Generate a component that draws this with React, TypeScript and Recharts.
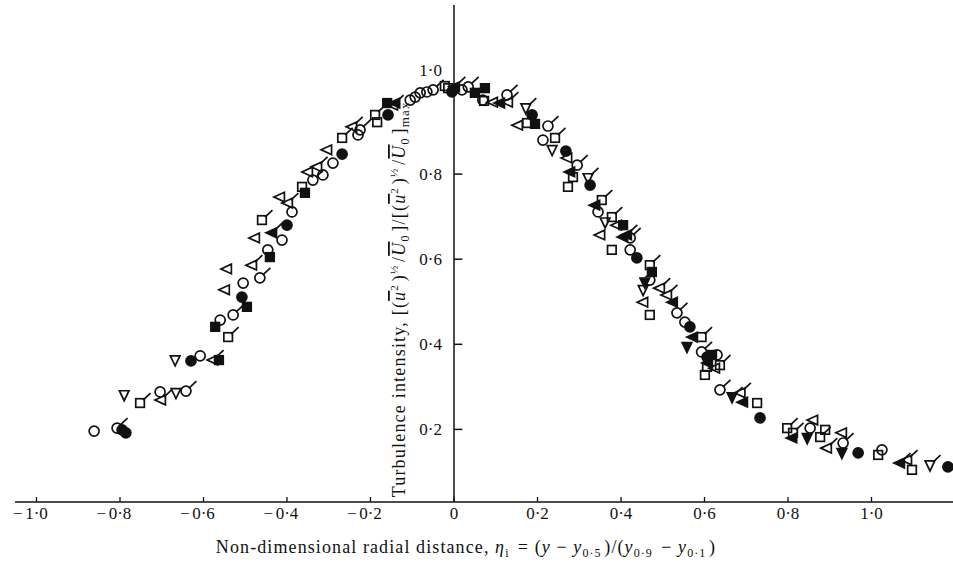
import React from 'react';
import { ScatterChart, Scatter, XAxis, YAxis, ReferenceLine } from 'recharts';

type Pt = [number, number];

// axis ticks
const xTicks = [-1.0, -0.8, -0.6, -0.4, -0.2, 0, 0.2, 0.4, 0.6, 0.8, 1.0];
const yTicks = [0.2, 0.4, 0.6, 0.8];
const yTopLabel = 1.0;

// measured points, grouped by symbol
const openCircle: Pt[] = [
  [-0.862, 0.196], [-0.704, 0.288], [-0.608, 0.373], [-0.56, 0.457], [-0.505, 0.544],
  [-0.446, 0.622], [-0.412, 0.645], [-0.388, 0.711], [-0.314, 0.798], [-0.29, 0.826],
  [-0.23, 0.892], [-0.105, 0.974], [-0.093, 0.981], [-0.081, 0.991], [-0.065, 0.993],
  [0.019, 0.998], [0.069, 0.974], [0.213, 0.88], [0.345, 0.711], [0.422, 0.622],
  [0.469, 0.551], [0.553, 0.452], [0.63, 0.375], [0.853, 0.203], [1.025, 0.152],
];
const flaggedCircle: Pt[] = [
  [-0.807, 0.203], [-0.642, 0.29], [-0.529, 0.469], [-0.465, 0.556], [-0.338, 0.786],
  [-0.225, 0.904], [-0.05, 0.998], [0.034, 1.005], [0.127, 0.986], [0.225, 0.913],
  [0.295, 0.821], [0.422, 0.65], [0.534, 0.474], [0.593, 0.382], [0.637, 0.293],
  [0.932, 0.168],
];
const filledCircle: Pt[] = [
  [-0.795, 0.199], [-0.786, 0.192], [-0.63, 0.361], [-0.508, 0.511], [-0.4, 0.68],
  [-0.268, 0.847], [-0.158, 0.939], [-0.005, 0.993], [0.187, 0.939], [0.268, 0.854],
  [0.326, 0.774], [0.438, 0.603], [0.565, 0.441], [0.606, 0.37], [0.733, 0.227],
  [0.968, 0.145], [1.183, 0.112],
];
const openSquare: Pt[] = [
  [-0.364, 0.77], [-0.184, 0.922], [-0.022, 1.007], [-0.014, 1.002], [0.072, 0.972],
  [0.175, 0.92], [0.285, 0.793], [0.273, 0.77], [0.378, 0.622], [0.469, 0.469],
  [0.606, 0.347], [0.601, 0.328], [0.726, 0.262], [0.889, 0.199], [1.016, 0.14],
  [1.097, 0.105],
];
const flaggedSquare: Pt[] = [
  [-0.752, 0.262], [-0.541, 0.417], [-0.46, 0.692], [-0.268, 0.885], [-0.189, 0.939],
  [0.242, 0.885], [0.354, 0.739], [0.378, 0.699], [0.469, 0.586], [0.593, 0.417],
  [0.637, 0.351], [0.798, 0.203], [0.812, 0.192], [0.877, 0.182],
];
const filledSquare: Pt[] = [
  [-0.572, 0.441], [-0.563, 0.363], [-0.496, 0.488], [-0.441, 0.605], [-0.357, 0.756],
  [-0.16, 0.967], [0.05, 0.991], [0.074, 1.002], [0.194, 0.918], [0.405, 0.68],
  [0.474, 0.57], [0.618, 0.375],
];
const openTri: Pt[] = [
  [-0.549, 0.528], [-0.544, 0.577], [-0.477, 0.65], [-0.417, 0.746], [-0.35, 0.805],
  [-0.304, 0.857], [0.093, 0.969], [0.153, 0.915], [0.271, 0.838], [0.35, 0.657],
  [0.39, 0.68], [0.453, 0.499], [0.625, 0.344], [0.86, 0.222], [0.929, 0.192],
];
const flaggedTri: Pt[] = [
  [-0.702, 0.269], [-0.577, 0.363], [-0.484, 0.586], [-0.398, 0.732], [-0.328, 0.817],
  [-0.244, 0.911], [-0.146, 0.962], [0.129, 0.969], [0.493, 0.532], [0.51, 0.516],
  [0.686, 0.286], [0.893, 0.156], [1.085, 0.128],
];
const filledTri: Pt[] = [
  [-0.141, 0.967], [0.11, 0.967], [0.278, 0.805], [0.338, 0.727], [0.405, 0.652],
  [0.524, 0.499], [0.572, 0.417], [0.608, 0.356], [0.692, 0.264], [0.81, 0.18],
];
const flaggedFilledTri: Pt[] = [
  [-0.436, 0.662], [0.002, 1.005], [0.414, 0.657], [1.068, 0.121],
];
const openDown: Pt[] = [
  [-0.79, 0.281], [-0.666, 0.286], [-0.668, 0.363], [0.235, 0.857], [0.362, 0.687],
  [0.453, 0.528],
];
const flaggedDown: Pt[] = [[0.172, 0.955], [0.321, 0.791], [1.14, 0.116]];
const filledDown: Pt[] = [[0.457, 0.546], [0.558, 0.394], [0.846, 0.18], [0.929, 0.145]];
const flaggedFilledDown: Pt[] = [[0.666, 0.276]];

const X_DOMAIN: [number, number] = [-1.0515, 1.1952];
const Y_DOMAIN: [number, number] = [0.0294, 1.1974];

const SERIF = '"Liberation Serif", "Times New Roman", serif';
const INK = '#111';

const fmt = (v: number) => (v === 0 ? '0' : Math.abs(v).toFixed(1).replace('.', '·'));

type Kind = 'circle' | 'square' | 'left' | 'down';

const marker = (kind: Kind, filled: boolean, flag: boolean) => (props: any) => {
  const { cx, cy } = props;
  if (cx == null || cy == null) return <g />;
  let body: React.ReactNode = null;
  if (kind === 'circle') body = <circle cx={cx} cy={cy} r={5} />;
  if (kind === 'square') body = <rect x={cx - 4.3} y={cy - 4.3} width={8.6} height={8.6} />;
  if (kind === 'left')
    body = <polygon points={`${cx - 6},${cy} ${cx + 4.5},${cy - 4.8} ${cx + 4.5},${cy + 4.8}`} />;
  if (kind === 'down')
    body = <polygon points={`${cx - 4.8},${cy - 4.2} ${cx + 4.8},${cy - 4.2} ${cx},${cy + 5.8}`} />;
  return (
    <g stroke={INK} strokeWidth={1.7} fill={filled ? INK : 'none'}>
      {body}
      {flag && <line x1={cx + 3} y1={cy - 3} x2={cx + 10.5} y2={cy - 10} />}
    </g>
  );
};

const series: { name: string; data: Pt[]; kind: Kind; filled: boolean; flag: boolean }[] = [
  { name: 'oc', data: openCircle, kind: 'circle', filled: false, flag: false },
  { name: 'foc', data: flaggedCircle, kind: 'circle', filled: false, flag: true },
  { name: 'fc', data: filledCircle, kind: 'circle', filled: true, flag: false },
  { name: 'os', data: openSquare, kind: 'square', filled: false, flag: false },
  { name: 'fos', data: flaggedSquare, kind: 'square', filled: false, flag: true },
  { name: 'fs', data: filledSquare, kind: 'square', filled: true, flag: false },
  { name: 'ot', data: openTri, kind: 'left', filled: false, flag: false },
  { name: 'fot', data: flaggedTri, kind: 'left', filled: false, flag: true },
  { name: 'ft', data: filledTri, kind: 'left', filled: true, flag: false },
  { name: 'fft', data: flaggedFilledTri, kind: 'left', filled: true, flag: true },
  { name: 'od', data: openDown, kind: 'down', filled: false, flag: false },
  { name: 'fod', data: flaggedDown, kind: 'down', filled: false, flag: true },
  { name: 'fd', data: filledDown, kind: 'down', filled: true, flag: false },
  { name: 'ffd', data: flaggedFilledDown, kind: 'down', filled: true, flag: true },
];

const XTick = (props: any) => {
  const { x, y, payload } = props;
  const v = payload.value as number;
  return (
    <g>
      <line x1={x} x2={x} y1={y} y2={y - 5} stroke={INK} strokeWidth={1.3} />
      <text x={x} y={y + 17} textAnchor="middle" fontSize={17} fontFamily={SERIF} fill={INK}>
        {fmt(v)}
      </text>
      {v < 0 && (
        <text x={x - 14} y={y + 17} textAnchor="end" fontSize={17} fontFamily={SERIF} fill={INK}>
          −
        </text>
      )}
    </g>
  );
};

const sub = (s: string, size = 12) => (
  <>
    <tspan dy={4} fontSize={size}>{s}</tspan>
    <tspan dy={-4}>{'\u200a'}</tspan>
  </>
);
const sup = (s: string, size = 11) => (
  <>
    <tspan dy={-7} fontSize={size}>{s}</tspan>
    <tspan dy={7}>{'\u200a'}</tspan>
  </>
);

const XTitle = () => (
  <text
    x={466}
    y={553}
    textAnchor="middle"
    fontSize={18}
    letterSpacing={1.1}
    fontFamily={SERIF}
    fill={INK}
  >
    Non-dimensional radial distance,{'  '}
    <tspan fontStyle="italic">η</tspan>
    {sub('i')}
    {' = ('}
    <tspan fontStyle="italic">y</tspan>
    {' − '}
    <tspan fontStyle="italic">y</tspan>
    {sub('0·5')}
    {')/('}
    <tspan fontStyle="italic">y</tspan>
    {sub('0·9')}
    {' − '}
    <tspan fontStyle="italic">y</tspan>
    {sub('0·1')}
    {')'}
  </text>
);

const YTitle = () => (
  <text
    transform="translate(405, 298) rotate(-90)"
    textAnchor="middle"
    fontSize={18}
    letterSpacing={1.2}
    fontFamily={SERIF}
    fill={INK}
  >
    {'Turbulence intensity, [('}
    <tspan fontStyle="italic" style={{ textDecoration: 'overline' }}>u</tspan>
    {sup('2')}
    {')'}
    {sup('½')}
    {'/'}
    <tspan fontStyle="italic" style={{ textDecoration: 'overline' }}>U</tspan>
    {sub('0')}
    {']/[('}
    <tspan fontStyle="italic" style={{ textDecoration: 'overline' }}>u</tspan>
    {sup('2')}
    {')'}
    {sup('½')}
    {'/'}
    <tspan fontStyle="italic" style={{ textDecoration: 'overline' }}>U</tspan>
    {sub('0')}
    {']'}
    {sub('max', 13)}
  </text>
);

const tickLabel = (v: number) => ({
  value: fmt(v),
  position: 'left' as const,
  offset: 12,
  fill: INK,
  fontSize: 17,
  fontFamily: SERIF,
});

export default function App() {
  return (
    <div style={{ position: 'absolute', left: 0, top: 0, width: 953, height: 564, background: '#fff' }}>
      <ScatterChart width={953} height={564} margin={{ top: 5, right: 0, bottom: 0, left: 15 }}>
        <XAxis
          type="number"
          dataKey="x"
          domain={X_DOMAIN}
          allowDataOverflow
          ticks={xTicks}
          interval={0}
          height={62}
          tickSize={0}
          tickMargin={0}
          tickLine={false}
          tick={<XTick />}
          axisLine={{ stroke: INK, strokeWidth: 1.5 }}
          label={<XTitle />}
        />
        <YAxis type="number" dataKey="y" domain={Y_DOMAIN} allowDataOverflow hide />
        <ReferenceLine x={0} stroke={INK} strokeWidth={1.5} label={<YTitle />} />
        {yTicks.map((v) => (
          <ReferenceLine
            key={v}
            segment={[{ x: 0, y: v }, { x: 0.02, y: v }]}
            stroke={INK}
            strokeWidth={1.5}
            label={tickLabel(v)}
          />
        ))}
        <ReferenceLine
          segment={[{ x: 0, y: yTopLabel + 0.045 }, { x: 0.02, y: yTopLabel + 0.045 }]}
          stroke="none"
          label={tickLabel(yTopLabel)}
        />
        {series.map((s) => (
          <Scatter
            key={s.name}
            name={s.name}
            data={s.data.map(([x, y]) => ({ x, y }))}
            shape={marker(s.kind, s.filled, s.flag)}
            isAnimationActive={false}
          />
        ))}
      </ScatterChart>
    </div>
  );
}
